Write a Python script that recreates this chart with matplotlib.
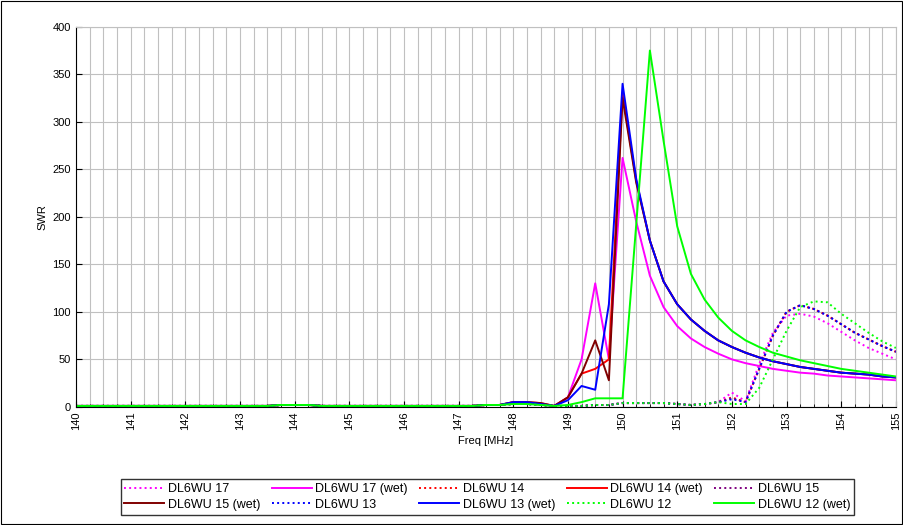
import matplotlib
matplotlib.use('Agg')
import matplotlib.pyplot as plt
from matplotlib.patches import Rectangle
import numpy as np

plt.rcParams['font.family'] = ['Liberation Sans', 'DejaVu Sans']
plt.rcParams['font.size'] = 8

freq = np.arange(140, 155.001, 0.25)

def fill(knots):
    # knots: dict freq->value, frequencies not listed keep the previous value
    v = []
    last = 1.0
    for f in freq:
        key = round(f, 2)
        if key in knots:
            last = knots[key]
        v.append(last)
    return v

base = {140: 1, 143.75: 2, 144.5: 1, 147.5: 2, 148.0: 3, 148.5: 2, 148.75: 1}

dry_rise = {149: 1, 149.5: 2, 150: 4, 150.5: 4, 151: 3, 151.25: 2, 151.5: 3, 151.75: 5,
            152: 8, 152.25: 5, 152.5: 40, 152.75: 75, 153: 100, 153.25: 107, 153.5: 103,
            153.75: 96, 154: 87, 154.25: 78, 154.5: 71, 154.75: 64, 155: 58}
dl17 = fill({**base, **dry_rise, 152: 15, 152.25: 6, 152.5: 45, 152.75: 78, 153: 96, 153.25: 98,
             153.5: 95, 153.75: 88, 154: 79, 154.25: 70, 154.5: 62, 154.75: 56, 155: 50})
dl14 = fill({**base, **dry_rise, 152: 10})
dl15 = fill({**base, **dry_rise, 152: 9})
dl13 = fill({**base, **dry_rise})
dl12 = fill({**base, **dry_rise, 152: 3, 152.25: 3, 152.5: 20, 152.75: 50, 153: 80, 153.25: 105,
             153.5: 111, 153.75: 110, 154: 98, 154.25: 88, 154.5: 78, 154.75: 69, 155: 62})

tail = {150.25: 240, 150.5: 175, 150.75: 132, 151: 108, 151.25: 92, 151.5: 80, 151.75: 70,
        152: 63, 152.25: 57, 152.5: 52, 152.75: 48, 153: 45, 153.25: 42, 153.5: 40,
        153.75: 38, 154: 36, 154.25: 35, 154.5: 34, 154.75: 32, 155: 31}
wet17 = fill({**base, 148: 4, 149: 10, 149.25: 50, 149.5: 130, 149.75: 50, 150: 262, 150.25: 195,
              150.5: 138, 150.75: 105, 151: 85, 151.25: 72, 151.5: 63, 151.75: 56, 152: 50,
              152.25: 46, 152.5: 43, 152.75: 40, 153: 38, 153.25: 36, 153.5: 35, 153.75: 33,
              154: 32, 154.25: 31, 154.5: 30, 154.75: 29, 155: 28})
wet14 = fill({**base, 148: 5, 148.5: 4, 149: 10, 149.25: 35, 149.5: 40, 149.75: 50, 150: 330, **tail,
              150.25: 238})
wet15 = fill({**base, 148: 5, 148.5: 4, 149: 10, 149.25: 35, 149.5: 70, 149.75: 28, 150: 325, **tail,
              150.25: 236})
wet13 = fill({**base, 148: 5, 148.5: 3, 149: 7, 149.25: 22, 149.5: 18, 149.75: 108, 150: 340, **tail})
wet12 = fill({**base, 148: 3, 149: 2, 149.25: 5, 149.5: 9, 149.75: 9, 150: 9, 150.25: 192,
              150.5: 375, 150.75: 280, 151: 190, 151.25: 140, 151.5: 113, 151.75: 94, 152: 80,
              152.25: 70, 152.5: 63, 152.75: 57, 153: 53, 153.25: 49, 153.5: 46, 153.75: 43,
              154: 40, 154.25: 38, 154.5: 36, 154.75: 34, 155: 32})

series = [
    ('DL6WU 17', dl17, '#ff00ff', ':'),
    ('DL6WU 17 (wet)', wet17, '#ff00ff', '-'),
    ('DL6WU 14', dl14, '#ff0000', ':'),
    ('DL6WU 14 (wet)', wet14, '#ff0000', '-'),
    ('DL6WU 15', dl15, '#800080', ':'),
    ('DL6WU 15 (wet)', wet15, '#800000', '-'),
    ('DL6WU 13', dl13, '#0000ff', ':'),
    ('DL6WU 13 (wet)', wet13, '#0000ff', '-'),
    ('DL6WU 12', dl12, '#00ff00', ':'),
    ('DL6WU 12 (wet)', wet12, '#00ff00', '-'),
]

fig = plt.figure(figsize=(9.04, 5.25), dpi=100)
fig.patches.append(Rectangle((0.001, 0.001), 0.997, 0.997, transform=fig.transFigure,
                             fill=False, edgecolor='black', linewidth=0.8))
ax = fig.add_axes([0.084, 0.225, 0.907, 0.724])
handles = []
for name, vals, col, ls in series:
    h, = ax.plot(freq, vals, color=col, linestyle=ls, linewidth=1.4, label=name)
    handles.append(h)

ax.set_xlim(140, 155)
ax.set_ylim(0, 400)
ax.set_xticks(np.arange(140, 156, 1))
ax.set_xticks(np.arange(140, 155.01, 0.25), minor=True)
ax.set_yticks(np.arange(0, 401, 50))
ax.tick_params(axis='x', rotation=90, direction='in', length=4)
ax.tick_params(axis='x', which='minor', direction='in', length=2)
ax.tick_params(axis='y', direction='in', length=4)
ax.grid(True, which='both', color='#c0c0c0', linewidth=0.8)
ax.set_axisbelow(True)
for s in ['top', 'right']:
    ax.spines[s].set_color('#c0c0c0')
ax.set_xlabel('Freq [MHz]')
ax.set_ylabel('SWR')

# matplotlib fills legend column by column; reorder so it reads row by row
order = [0, 5, 1, 6, 2, 7, 3, 8, 4, 9]
fig.legend([handles[i] for i in order], [series[i][0] for i in order],
           loc='lower center', bbox_to_anchor=(0.539, 0.008), ncol=5, frameon=True,
           fancybox=False, edgecolor='black', fontsize=9, handlelength=3.2,
           columnspacing=0.9, handletextpad=0.3, borderpad=0.3, labelspacing=0.3)

fig.savefig('out.png', dpi=100)
